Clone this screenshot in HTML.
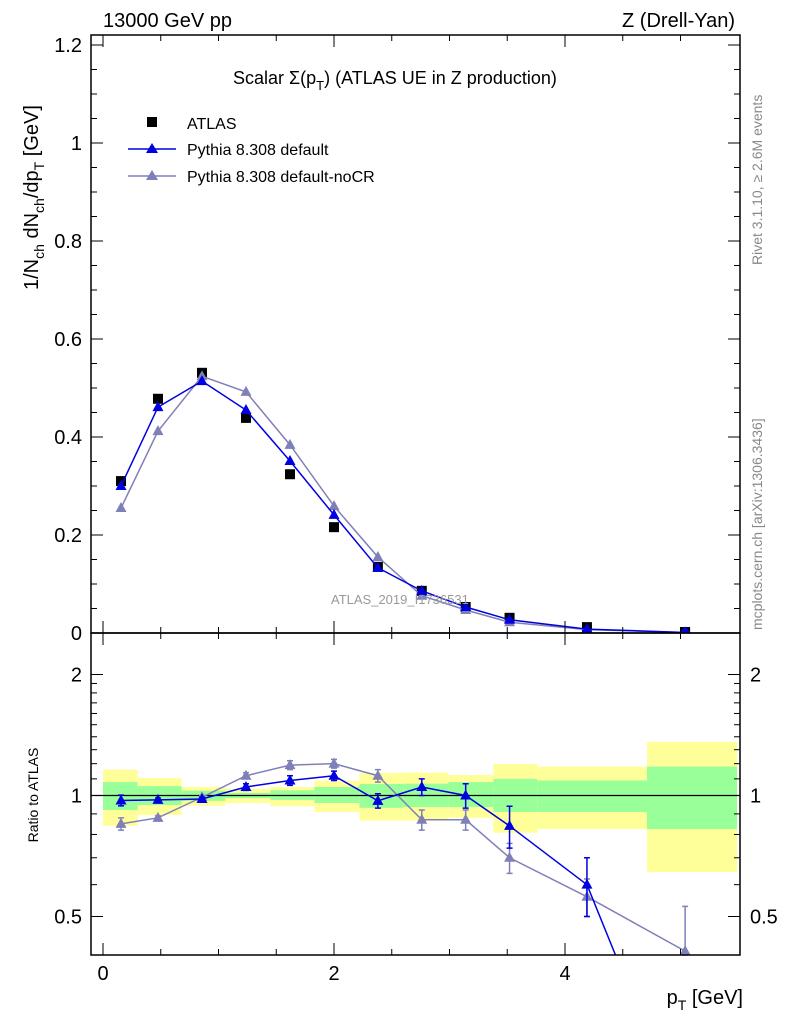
<!DOCTYPE html>
<html><head><meta charset="utf-8"><style>
html,body{margin:0;padding:0;background:#fff;width:786px;height:1024px;overflow:hidden;}
svg{display:block;font-family:"Liberation Sans",sans-serif;overflow:hidden;}
</style></head><body>
<svg id="chart" width="786" height="1024" xmlns="http://www.w3.org/2000/svg">
<g id="bands"></g>
<g id="main"></g>
<g id="ratio"></g>
<g id="axes"></g>
<text x="103" y="27" font-size="20">13000 GeV pp</text>
<text x="735" y="27" font-size="20" text-anchor="end">Z (Drell-Yan)</text>
<text x="233" y="84" font-size="18">Scalar Σ(p<tspan font-size="13" dy="6">T</tspan><tspan dy="-6">) (ATLAS UE in Z production)</tspan></text>
<g>
<rect x="147" y="117" width="10" height="10" fill="#000"/>
<text x="187" y="129" font-size="16">ATLAS</text>
<line x1="128" y1="149" x2="176" y2="149" stroke="#0000e0" stroke-width="1.5"/>
<polygon points="152,143 158,153 146,153" fill="#0000e0"/>
<text x="187" y="155" font-size="16">Pythia 8.308 default</text>
<line x1="128" y1="176" x2="176" y2="176" stroke="#8080b8" stroke-width="1.5"/>
<polygon points="152,170 158,180 146,180" fill="#8080b8"/>
<text x="187" y="182" font-size="16">Pythia 8.308 default-noCR</text>
</g>
<text x="331" y="604" font-size="13" fill="#999">ATLAS_2019_I1736531</text>
<text transform="translate(762,265) rotate(-90)" font-size="14" fill="#888">Rivet 3.1.10, ≥ 2.6M events</text>
<text transform="translate(762,630) rotate(-90)" font-size="14" fill="#888">mcplots.cern.ch [arXiv:1306.3436]</text>
<text transform="translate(38,290) rotate(-90)" font-size="20" text-anchor="start">1/N<tspan font-size="14" dy="6">ch</tspan><tspan dy="-6"> dN</tspan><tspan font-size="14" dy="6">ch</tspan><tspan dy="-6">/dp</tspan><tspan font-size="14" dy="6">T</tspan><tspan dy="-6"> [GeV]</tspan></text>
<text transform="translate(38,795) rotate(-90)" font-size="14" text-anchor="middle">Ratio to ATLAS</text>
<text x="743" y="1004" font-size="20" text-anchor="end">p<tspan font-size="14" dy="6">T</tspan><tspan dy="-6"> [GeV]</tspan></text>
</svg>
<script>
const xs=[0.156,0.476,0.857,1.238,1.619,2.0,2.38,2.76,3.14,3.52,4.19,5.04];
const atlas=[0.31,0.478,0.531,0.439,0.324,0.216,0.135,0.086,0.053,0.031,0.012,0.002];
const pyDef=[0.30,0.461,0.514,0.455,0.351,0.241,0.133,0.086,0.053,0.027,0.008,0.001];
const pyNoCR=[0.255,0.412,0.524,0.492,0.384,0.259,0.155,0.076,0.047,0.022,0.007,0.001];
const ratioDef=[0.972,0.975,0.98,1.05,1.09,1.12,0.97,1.05,1.0,0.84,0.6,0.15];
const ratioNoCR=[0.85,0.88,0.99,1.12,1.19,1.2,1.12,0.87,0.87,0.70,0.56,0.41];
const errDef=[0.03,0.01,0.01,0.02,0.03,0.03,0.04,0.05,0.07,0.1,0.1,0.1];
const errNoCR=[0.03,0.01,0.01,0.02,0.03,0.03,0.04,0.05,0.05,0.06,0.06,0.12];
const binEdges=[0,0.3,0.68,1.06,1.45,1.83,2.22,2.6,2.99,3.38,3.76,4.71,5.49];
const yelHi=[1.16,1.105,1.05,1.038,1.05,1.088,1.137,1.14,1.125,1.197,1.18,1.36];
const yelLo=[0.84,0.895,0.943,0.958,0.94,0.91,0.866,0.866,0.88,0.808,0.825,0.645];
const grnHi=[1.08,1.055,1.028,1.015,1.03,1.05,1.068,1.07,1.08,1.1,1.09,1.18];
const grnLo=[0.92,0.947,0.97,0.985,0.975,0.958,0.932,0.936,0.936,0.91,0.91,0.825];
const xTicks=[0,2,4];
const yTicks=[0,0.2,0.4,0.6,0.8,1,1.2];
const yTickLabels=["0","0.2","0.4","0.6","0.8","1","1.2"];
const rTicks=[0.5,1,2];

const NS="http://www.w3.org/2000/svg";
const L=91,R=740,T=35,M=633,B=955;
const X=v=>103+v*115.5;
const Y=v=>633-v*490;
const RY=v=>795.5-Math.log2(v)*121;
const clampR=y=>Math.max(M,Math.min(B,y));
function mk(p,tag,a){const e=document.createElementNS(NS,tag);for(const k in a)e.setAttribute(k,a[k]);p.appendChild(e);return e;}
const bands=document.getElementById('bands'),main=document.getElementById('main'),ratio=document.getElementById('ratio'),axes=document.getElementById('axes');
for(let i=0;i<binEdges.length-1;i++){
 const x0=X(binEdges[i]),w=X(binEdges[i+1])-x0;
 let r=mk(bands,'rect',{x:x0,y:RY(yelHi[i]),width:w,height:RY(yelLo[i])-RY(yelHi[i]),fill:'#ffff99'});
 
 r=mk(bands,'rect',{x:x0,y:RY(grnHi[i]),width:w,height:RY(grnLo[i])-RY(grnHi[i]),fill:'#99ff99'});
 
}
let ln=mk(ratio,'line',{x1:L,x2:R,y1:RY(1),y2:RY(1),stroke:'#000','stroke-width':1.2});

function series(g,vals,yf,color,name,errs,ymax){
 const pts=[];
 for(let i=0;i<xs.length;i++){
  const px=X(xs[i]),py=yf(vals[i]);
  if(py<=ymax){pts.push([px,py]);continue;}
  if(i>0){const qx=X(xs[i-1]),qy=yf(vals[i-1]);
   if(qy<=ymax){const f=(ymax-qy)/(py-qy);pts.push([qx+f*(px-qx),ymax]);}}
  break;
 }
 const pl=mk(g,'polyline',{points:pts.map(p=>p[0]+','+p[1]).join(' '),fill:'none',stroke:color,'stroke-width':1.5});
 
 xs.forEach((x,i)=>{const cx=X(x),cy=yf(vals[i]);
  if(errs){const y1=clampR(yf(vals[i]+errs[i])),y2=clampR(yf(Math.max(vals[i]-errs[i],0.05)));
   if(y2>y1){const e=mk(g,'path',{d:`M${cx},${y1}V${y2}M${cx-3},${y1}h6M${cx-3},${y2}h6`,stroke:color,'stroke-width':1.5,fill:'none'});
   }}
  if(cy>ymax)return;
  const t=mk(g,'polygon',{points:`${cx},${cy-6} ${cx+5.5},${Math.min(cy+4,ymax)} ${cx-5.5},${Math.min(cy+4,ymax)}`,fill:color});
  });
}
xs.forEach((x,i)=>{const r=mk(main,'rect',{x:X(x)-5,y:Y(atlas[i])-5,width:10,height:Math.min(10,M-(Y(atlas[i])-5)),fill:'#000'});
 });
series(main,pyNoCR,Y,'#8080b8','nocr',null,M);
series(main,pyDef,Y,'#0000e0','default',null,M);
series(ratio,ratioNoCR,RY,'#8080b8','nocr-ratio',errNoCR,B);
series(ratio,ratioDef,RY,'#0000e0','default-ratio',errDef,B);
for(const [y0,y1] of [[T,M],[M,B]]){const f=mk(axes,'rect',{x:L,y:y0,width:R-L,height:y1-y0,fill:'none',stroke:'#000','stroke-width':1.5});
 }
for(let v=0;v<=5.4;v+=0.5){const maj=Math.abs(v%2)<1e-6,len=maj?12:6;
 for(const [y0,y1] of [[T,M],[M,B]]){mk(axes,'line',{x1:X(v),x2:X(v),y1:y1,y2:y1-len,stroke:'#000'});mk(axes,'line',{x1:X(v),x2:X(v),y1:y0,y2:y0+len,stroke:'#000'});}}
xTicks.forEach(v=>{const t=mk(axes,'text',{x:X(v),y:980,'font-size':20,'text-anchor':'middle'});t.textContent=v;
 });
for(let v=0;v<=1.21;v+=0.05){const maj=Math.abs(Math.round(v*100)%20)<1,len=maj?12:6;
 mk(axes,'line',{x1:L,x2:L+len,y1:Y(v),y2:Y(v),stroke:'#000'});mk(axes,'line',{x1:R,x2:R-len,y1:Y(v),y2:Y(v),stroke:'#000'});}
yTicks.forEach((v,i)=>{const t=mk(axes,'text',{x:82,y:Y(v)+7,'font-size':20,'text-anchor':'end'});t.textContent=yTickLabels[i];
 });
[0.5,0.6,0.7,0.8,0.9,1,2].concat([1.1,1.2,1.3,1.4,1.5,1.6,1.7,1.8,1.9]).forEach(v=>{const maj=rTicks.includes(v),len=maj?12:6;
 mk(axes,'line',{x1:L,x2:L+len,y1:RY(v),y2:RY(v),stroke:'#000'});mk(axes,'line',{x1:R,x2:R-len,y1:RY(v),y2:RY(v),stroke:'#000'});});
rTicks.forEach(v=>{for(const [x,a] of [[82,'end'],[750,'start']]){const t=mk(axes,'text',{x:x,y:RY(v)+7,'font-size':20,'text-anchor':a});t.textContent=v;
 }});
</script>
</body></html>
